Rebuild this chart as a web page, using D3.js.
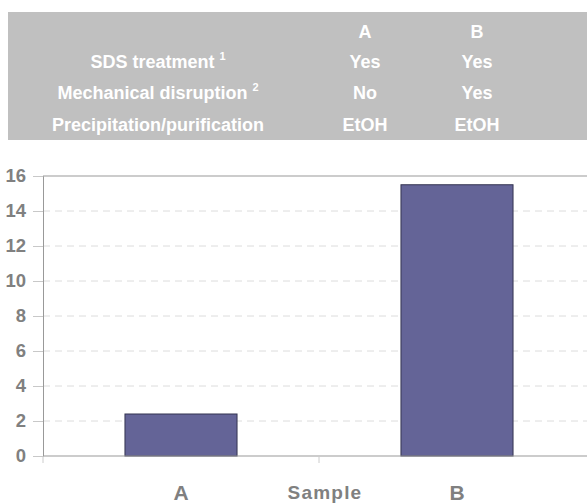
<!DOCTYPE html>
<html>
<head>
<meta charset="utf-8">
<script src="https://cdn.jsdelivr.net/npm/d3@7"></script>
<style>
  html, body { margin: 0; padding: 0; background: #fff; }
  svg { display: block; font-family: "Liberation Sans", Arial, sans-serif; }
</style>
</head>
<body>
<div id="chart"></div>
<script>
// data
const samples = ["A", "B"];
const values = [2.4, 15.5];
const yTicks = [0, 2, 4, 6, 8, 10, 12, 14, 16];
const rowLabels = ["SDS treatment", "Mechanical disruption", "Precipitation/purification"];
const rowNotes = ["1", "2", ""];
const colA = ["Yes", "No", "EtOH"];
const colB = ["Yes", "Yes", "EtOH"];
const xTitle = "Sample";

const W = 587, H = 503;
const plot = { left: 43, right: 595, top: 176, bottom: 456 };
const gray = "#808080";

const svg = d3.select("#chart").append("svg")
  .attr("width", W).attr("height", H);

// condition table
svg.append("rect")
  .attr("x", 8).attr("y", 12)
  .attr("width", W - 8).attr("height", 128)
  .attr("fill", "#c0c0c0");

const tbl = svg.append("g")
  .attr("fill", "#fff")
  .attr("font-weight", "bold")
  .attr("font-size", 18)
  .attr("text-anchor", "middle");

const colX = { A: 365, B: 477 };
const rowY = [68, 99, 131];

tbl.selectAll("text.head")
  .data(samples)
  .join("text")
  .attr("class", "head")
  .attr("x", d => colX[d]).attr("y", 38)
  .text(d => d);

const lbl = tbl.selectAll("text.lbl")
  .data(rowLabels)
  .join("text")
  .attr("class", "lbl")
  .attr("x", 158).attr("y", (d, i) => rowY[i]);
lbl.append("tspan").text(d => d);
lbl.append("tspan")
  .attr("font-size", 11).attr("dx", 5).attr("dy", -8)
  .text((d, i) => rowNotes[i]);

tbl.selectAll("text.ca")
  .data(colA)
  .join("text")
  .attr("class", "ca")
  .attr("x", colX.A).attr("y", (d, i) => rowY[i])
  .text(d => d);

tbl.selectAll("text.cb")
  .data(colB)
  .join("text")
  .attr("class", "cb")
  .attr("x", colX.B).attr("y", (d, i) => rowY[i])
  .text(d => d);

// scales
const x = d3.scaleBand()
  .domain(samples)
  .range([plot.left, plot.right])
  .paddingInner(0.594)
  .paddingOuter(0.297);

const y = d3.scaleLinear()
  .domain([0, 16])
  .range([plot.bottom, plot.top]);

// gridlines
svg.append("g")
  .selectAll("line")
  .data(yTicks.filter(t => t > 0 && t < 16))
  .join("line")
  .attr("x1", plot.left).attr("x2", W)
  .attr("y1", d => y(d)).attr("y2", d => y(d))
  .attr("stroke", "#dcdcdc")
  .attr("stroke-dasharray", "7,5");

// top border
svg.append("line")
  .attr("x1", plot.left).attr("x2", W)
  .attr("y1", plot.top).attr("y2", plot.top)
  .attr("stroke", "#999");

// bars
svg.append("g")
  .selectAll("rect")
  .data(samples)
  .join("rect")
  .attr("x", d => x(d))
  .attr("width", x.bandwidth())
  .attr("y", (d, i) => y(values[i]))
  .attr("height", (d, i) => y(0) - y(values[i]))
  .attr("fill", "#646497")
  .attr("stroke", "#333350")
  .attr("stroke-width", 1);

// y axis
const yAxis = svg.append("g")
  .attr("transform", `translate(${plot.left},0)`)
  .call(d3.axisLeft(y).tickValues(yTicks).tickSize(10).tickPadding(7));
yAxis.select(".domain").attr("stroke", "#999");
yAxis.selectAll(".tick line").attr("stroke", "#c8c8c8");
yAxis.selectAll(".tick text")
  .attr("fill", gray)
  .attr("font-size", 18.5)
  .attr("font-weight", "bold")
  .attr("font-family", "'Liberation Sans', Arial, sans-serif");

// x axis
svg.append("line")
  .attr("x1", plot.left).attr("x2", W)
  .attr("y1", plot.bottom).attr("y2", plot.bottom)
  .attr("stroke", "#999");

const step = x.step();
svg.append("g")
  .selectAll("line")
  .data([0, 1])
  .join("line")
  .attr("x1", d => plot.left + d * step).attr("x2", d => plot.left + d * step)
  .attr("y1", plot.bottom).attr("y2", plot.bottom + 7)
  .attr("stroke", "#ccc");

svg.append("g")
  .selectAll("text")
  .data(samples)
  .join("text")
  .attr("x", d => x(d) + x.bandwidth() / 2)
  .attr("y", 500)
  .attr("text-anchor", "middle")
  .attr("fill", gray)
  .attr("font-size", 21)
  .attr("font-weight", "bold")
  .text(d => d);

svg.append("text")
  .attr("x", 325).attr("y", 499)
  .attr("text-anchor", "middle")
  .attr("fill", gray)
  .attr("font-size", 19)
  .attr("font-weight", "bold")
  .attr("letter-spacing", 1.2)
  .text(xTitle);
</script>
</body>
</html>
